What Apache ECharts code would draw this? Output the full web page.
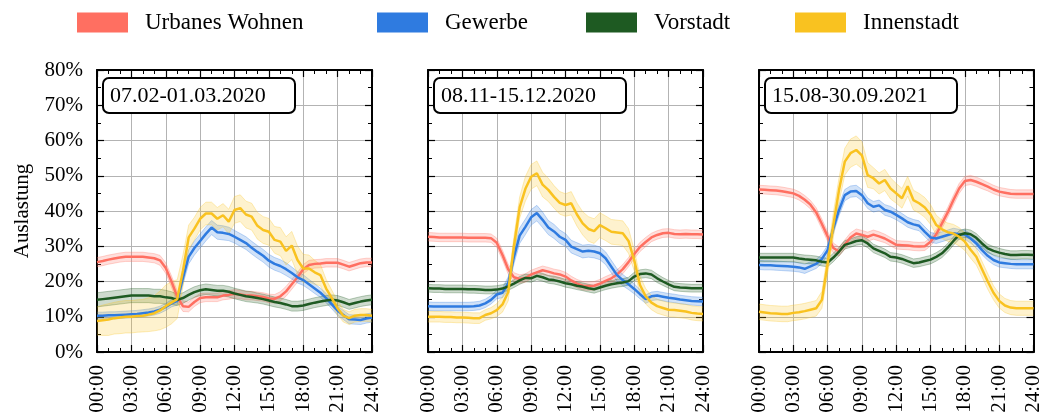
<!DOCTYPE html>
<html><head><meta charset="utf-8">
<script src="https://cdn.jsdelivr.net/npm/echarts@6/dist/echarts.min.js"></script>
<style>html,body{margin:0;padding:0;background:#fff}#c{width:1044px;height:418px}</style>
</head><body><div id="c"></div>
<script>
// ---------- data ----------
const seriesNames = ['Urbanes Wohnen', 'Gewerbe', 'Vorstadt', 'Innenstadt'];
const periodLabels = ['07.02-01.03.2020', '08.11-15.12.2020', '15.08-30.09.2021'];
const xTickLabels = ['00:00','03:00','06:00','09:00','12:00','15:00','18:00','21:00','24:00'];
const yTickLabels = ['0%','10%','20%','30%','40%','50%','60%','70%','80%'];
const yAxisTitle = 'Auslastung';
const hours = [0,0.5,1,1.5,2,2.5,3,3.5,4,4.5,5,5.5,6,6.5,7,7.5,8,8.5,9,9.5,10,10.5,11,11.5,12,12.5,13,13.5,14,14.5,15,15.5,16,16.5,17,17.5,18,18.5,19,19.5,20,20.5,21,21.5,22,22.5,23,23.5,24];

// Period 1: 07.02-01.03.2020
const p1Urban    = [25.5,25.8,26.2,26.5,26.8,27.0,27.0,27.0,27.0,26.8,26.6,26.0, 23.8,20.0,15.7,13.0,12.8,14.2,15.3,15.5,15.5,15.5,16.0,16.2, 16.5,16.3,16.0,16.0,15.8,15.6,15.2,15.1,15.8,17.2,19.2,21.2, 23.5,24.7,25.0,25.1,25.3,25.3,25.3,24.8,24.2,24.7,25.2,25.4,25.4];
const p1Gewerbe  = [10.3,10.3,10.4,10.4,10.5,10.6,10.7,10.8,11.0,11.2,11.5,12.0, 12.8,13.8,14.5,21.0,27.0,29.5,31.5,33.5,35.3,34.0,33.8,33.5, 32.7,31.8,30.9,29.6,28.4,27.3,25.9,25.0,24.4,23.5,22.4,21.2, 20.4,19.2,18.0,16.8,15.3,13.5,11.7,10.5,9.3,9.2,9.1,9.5,9.8];
const p1Vorstadt = [14.8,15.0,15.2,15.4,15.6,15.8,16.0,16.0,16.0,16.0,15.8,15.8, 15.5,15.3,14.8,15.3,16.2,17.0,17.5,17.8,17.6,17.4,17.4,17.1, 16.6,16.2,15.8,15.6,15.3,15.0,14.6,14.2,13.9,13.5,13.0,13.0, 13.2,13.6,14.0,14.3,14.6,14.8,14.6,14.1,13.5,13.9,14.3,14.6,14.8];
const p1Innen    = [8.8,9.0,9.2,9.6,9.8,10.0,10.0,10.2,10.3,10.6,11.0,11.8, 13.0,14.0,15.0,23.0,32.5,35.0,37.8,39.3,39.3,37.8,38.8,37.0, 40.3,40.8,39.0,38.4,35.8,34.6,34.1,31.8,31.3,28.7,30.2,26.1, 23.7,23.7,22.6,21.8,18.0,15.3,12.4,10.3,9.6,10.3,10.5,10.5,10.3];
const p1UrbanBand    = [1.3,1.3,1.3,1.3,1.3,1.3,1.3,1.3,1.3,1.3,1.3,1.4, 1.5,1.6,1.6,1.5,1.4,1.3,1.3,1.2,1.2,1.2,1.2,1.2, 1.2,1.2,1.2,1.2,1.2,1.2,1.2,1.2,1.3,1.4,1.4,1.4, 1.3,1.3,1.2,1.2,1.2,1.2,1.2,1.2,1.2,1.2,1.2,1.2,1.2];
const p1GewerbeBand  = [1.0,1.0,1.0,1.0,1.0,1.0,1.0,1.0,1.0,1.0,1.0,1.0, 1.0,1.0,1.2,1.8,2.0,2.0,2.0,2.0,2.0,2.0,2.0,1.9, 1.8,1.8,1.8,1.8,1.8,1.8,1.8,1.8,1.8,1.8,1.7,1.6, 1.5,1.4,1.4,1.3,1.3,1.3,1.3,1.3,1.3,1.3,1.3,1.3,1.3];
const p1VorstadtBand = [2.0,2.0,2.0,2.0,2.0,2.0,2.0,2.0,2.0,2.0,2.0,2.0, 2.0,1.8,1.6,1.5,1.5,1.5,1.5,1.5,1.5,1.5,1.5,1.5, 1.5,1.5,1.5,1.5,1.4,1.4,1.4,1.4,1.4,1.4,1.4,1.4, 1.4,1.4,1.4,1.4,1.4,1.4,1.4,1.4,1.4,1.4,1.4,1.4,1.4];
const p1InnenBand    = [4.0,4.3,4.5,4.5,4.6,4.6,4.6,4.6,4.6,4.8,5.0,5.5, 6.0,6.0,5.5,4.5,3.5,3.2,3.2,3.2,3.2,3.2,3.3,3.5, 3.8,3.8,3.8,3.8,3.8,3.8,3.8,3.8,4.0,4.0,4.0,4.0, 4.0,3.8,3.4,3.0,2.6,2.2,2.0,1.8,1.8,1.8,1.8,1.8,1.8];

// Period 2: 08.11-15.12.2020
const p2Urban    = [32.7,32.6,32.5,32.5,32.5,32.5,32.5,32.4,32.4,32.4,32.4,32.3, 31.0,27.5,23.5,21.2,20.7,21.0,22.0,22.6,23.2,22.8,22.3,22.0, 21.4,20.3,19.4,18.8,18.7,18.8,19.4,20.2,20.9,22.0,23.5,25.5, 27.8,29.8,31.2,32.5,33.2,33.7,33.8,33.5,33.4,33.5,33.4,33.4,33.3];
const p2Gewerbe  = [13.0,12.9,12.9,12.9,12.9,12.9,12.9,12.9,13.0,13.2,13.8,14.8, 16.3,16.8,19.5,27.0,33.0,35.5,38.2,39.4,37.5,35.3,34.2,32.7, 31.8,29.9,29.2,28.5,28.7,28.5,28.0,26.6,24.2,21.8,20.4,19.2, 17.9,16.4,15.0,15.8,16.0,15.7,15.4,15.2,14.9,14.7,14.5,14.4,14.3];
const p2Vorstadt = [18.1,18.0,18.0,17.9,17.9,17.9,17.9,17.8,17.8,17.7,17.6,17.6, 17.7,18.0,18.6,19.4,20.3,21.0,20.9,21.6,21.2,20.6,20.4,20.0, 19.5,19.2,18.8,18.5,18.1,17.8,18.3,18.8,19.2,19.5,19.7,20.1, 21.4,22.1,22.3,22.0,20.9,20.0,19.2,18.5,18.3,18.2,18.1,18.1,18.1];
const p2Innen    = [10.0,10.0,10.0,9.9,9.9,9.8,9.8,9.7,9.6,9.6,10.5,11.0, 11.9,13.5,17.0,30.0,41.0,46.3,49.7,50.7,47.5,46.0,44.0,42.3, 41.7,42.2,39.0,36.5,34.9,34.3,36.0,35.1,34.1,33.9,33.7,31.5, 26.0,19.0,15.8,14.0,13.0,12.5,12.0,11.9,11.7,11.5,11.1,10.9,10.8];
const p2UrbanBand    = [1.2,1.2,1.2,1.2,1.2,1.2,1.2,1.2,1.2,1.2,1.2,1.2, 1.3,1.4,1.4,1.3,1.2,1.2,1.2,1.2,1.2,1.2,1.2,1.2, 1.2,1.2,1.2,1.2,1.2,1.2,1.2,1.2,1.2,1.3,1.3,1.3, 1.3,1.3,1.3,1.2,1.2,1.2,1.2,1.2,1.2,1.2,1.2,1.2,1.2];
const p2GewerbeBand  = [1.2,1.2,1.2,1.2,1.2,1.2,1.2,1.2,1.2,1.2,1.2,1.2, 1.2,1.4,1.8,2.0,2.2,2.2,2.2,2.2,2.2,2.0,2.0,1.9, 1.8,1.8,1.8,1.8,1.8,1.8,1.8,1.8,1.8,1.8,1.6,1.5, 1.4,1.3,1.2,1.2,1.2,1.2,1.2,1.2,1.2,1.2,1.2,1.2,1.2];
const p2VorstadtBand = [1.1,1.1,1.1,1.1,1.1,1.1,1.1,1.1,1.1,1.1,1.1,1.1, 1.1,1.1,1.1,1.1,1.1,1.1,1.1,1.1,1.1,1.1,1.1,1.1, 1.1,1.1,1.1,1.1,1.1,1.1,1.1,1.1,1.1,1.1,1.1,1.1, 1.2,1.2,1.2,1.2,1.2,1.1,1.1,1.1,1.1,1.1,1.1,1.1,1.1];
const p2InnenBand    = [1.5,1.5,1.5,1.5,1.5,1.5,1.5,1.5,1.5,1.5,1.5,1.6, 1.8,2.2,2.5,2.8,3.0,3.5,3.5,3.5,3.5,3.3,3.2,3.2, 3.2,3.3,3.3,3.3,3.5,3.5,3.5,3.5,3.5,3.5,3.5,3.5, 3.0,2.5,2.2,2.0,2.0,2.0,2.0,2.0,2.0,2.0,2.0,2.0,2.0];

// Period 3: 15.08-30.09.2021
const p3Urban    = [46.1,46.0,45.9,45.8,45.6,45.3,45.0,44.3,43.2,41.8,39.6,36.3, 32.8,29.5,28.5,30.5,32.5,33.6,33.2,32.7,33.3,32.8,32.2,31.3, 30.4,30.3,30.2,30.0,29.9,30.0,31.3,33.4,36.5,39.6,43.1,46.4, 48.5,48.8,48.3,47.6,46.9,46.1,45.5,45.2,44.9,44.8,44.8,44.8,44.8];
const p3Gewerbe  = [24.7,24.6,24.6,24.5,24.4,24.3,24.2,24.0,23.6,24.3,25.0,26.4, 28.9,35.1,40.3,44.5,45.5,45.7,44.5,42.2,41.2,41.6,40.3,39.8, 38.9,37.9,36.8,36.2,35.8,34.1,32.5,32.2,32.7,33.2,33.7,33.4, 33.3,32.2,30.8,28.9,27.3,26.1,25.4,25.2,25.0,24.9,24.9,24.9,24.9];
const p3Vorstadt = [26.8,26.8,26.8,26.8,26.8,26.8,26.8,26.5,26.3,26.2,26.0,25.6, 25.4,26.8,28.5,30.4,30.9,31.5,31.7,30.8,29.4,28.7,28.0,27.0, 26.8,26.4,25.8,25.2,25.4,25.8,26.2,27.0,28.0,29.6,31.5,33.2, 33.7,33.4,32.4,30.8,29.4,28.7,28.2,27.8,27.5,27.5,27.6,27.6,27.5];
const p3Innen    = [11.4,11.2,11.0,10.9,10.8,10.8,11.1,11.3,11.6,12.0,12.4,14.8, 25.0,36.0,46.0,54.0,56.4,57.3,55.8,50.2,49.3,47.8,48.8,46.4, 45.0,43.6,47.0,43.1,42.2,41.0,39.0,36.0,34.8,34.0,33.6,32.7, 31.3,29.0,27.0,23.5,20.0,16.8,14.5,13.2,12.6,12.4,12.4,12.4,12.4];
const p3UrbanBand    = [1.2,1.2,1.2,1.2,1.2,1.2,1.2,1.2,1.2,1.2,1.3,1.4, 1.4,1.4,1.3,1.3,1.3,1.3,1.3,1.3,1.3,1.3,1.2,1.2, 1.2,1.2,1.2,1.2,1.2,1.2,1.2,1.3,1.4,1.4,1.4,1.4, 1.3,1.3,1.3,1.3,1.2,1.2,1.2,1.2,1.2,1.2,1.2,1.2,1.2];
const p3GewerbeBand  = [1.3,1.3,1.3,1.3,1.3,1.3,1.3,1.3,1.3,1.3,1.3,1.3, 1.4,1.5,1.6,1.6,1.6,1.6,1.6,1.5,1.5,1.5,1.5,1.5, 1.4,1.4,1.4,1.4,1.4,1.4,1.4,1.4,1.4,1.4,1.4,1.4, 1.3,1.3,1.3,1.3,1.3,1.3,1.3,1.3,1.3,1.3,1.3,1.3,1.3];
const p3VorstadtBand = [1.2,1.2,1.2,1.2,1.2,1.2,1.2,1.2,1.2,1.2,1.2,1.2, 1.2,1.2,1.2,1.2,1.2,1.2,1.2,1.2,1.2,1.2,1.2,1.2, 1.2,1.2,1.2,1.2,1.2,1.2,1.2,1.2,1.2,1.2,1.2,1.2, 1.2,1.2,1.2,1.2,1.2,1.2,1.2,1.2,1.2,1.2,1.2,1.2,1.2];
const p3InnenBand    = [2.2,2.2,2.2,2.2,2.2,2.2,2.2,2.2,2.2,2.2,2.2,2.4, 3.0,3.5,3.5,3.8,4.0,4.0,3.8,3.5,3.0,3.0,3.0,3.0, 2.8,2.8,2.8,2.8,2.8,2.8,2.8,2.8,2.6,2.6,2.6,2.6, 2.5,2.4,2.3,2.2,2.2,2.0,2.0,2.0,2.0,2.0,2.0,2.0,2.0];

const panels = [
  { means: [p1Urban, p1Gewerbe, p1Vorstadt, p1Innen], bands: [p1UrbanBand, p1GewerbeBand, p1VorstadtBand, p1InnenBand] },
  { means: [p2Urban, p2Gewerbe, p2Vorstadt, p2Innen], bands: [p2UrbanBand, p2GewerbeBand, p2VorstadtBand, p2InnenBand] },
  { means: [p3Urban, p3Gewerbe, p3Vorstadt, p3Innen], bands: [p3UrbanBand, p3GewerbeBand, p3VorstadtBand, p3InnenBand] }
];

// ---------- style / layout ----------
const colors = ['#FF6F61', '#2F7BE0', '#1E5A22', '#F9C220'];
const FONT = '"Liberation Serif", "DejaVu Serif", serif';
const gridBoxes = [
  { left: 97, top: 70, width: 275, height: 282 },
  { left: 428, top: 70, width: 275, height: 282 },
  { left: 759, top: 70, width: 276, height: 282 }
];
const legendLefts = [77, 377, 586, 795];

const grid = gridBoxes.map(g => Object.assign({ containLabel: false }, g));
const xAxis = [], yAxis = [], series = [];
const tickStyle = { show: true, inside: true, length: 7, lineStyle: { color: '#000', width: 1.2 } };
const axisLineStyle = { show: true, onZero: false, lineStyle: { color: '#000', width: 2 } };

function bandRenderer(color) {
  return function (params, api) {
    if (params.dataIndex !== 0) return null;
    const upper = [], lower = [];
    for (let k = 0; k < hours.length; k++) {
      upper.push(api.coord([api.value(0, k), api.value(2, k)]));
      lower.push(api.coord([api.value(0, k), api.value(1, k)]));
    }
    const poly = upper.concat(lower.slice().reverse());
    return {
      type: 'group',
      children: [
        { type: 'polygon', shape: { points: poly }, style: { fill: color, opacity: 0.22 } },
        { type: 'polyline', shape: { points: upper }, style: { stroke: color, fill: null, lineWidth: 1, opacity: 0.3 } },
        { type: 'polyline', shape: { points: lower }, style: { stroke: color, fill: null, lineWidth: 1, opacity: 0.3 } }
      ]
    };
  };
}

gridBoxes.forEach((g, i) => {
  xAxis.push({
    type: 'value', gridIndex: i, position: 'bottom', min: 0, max: 24, interval: 3,
    axisLine: axisLineStyle, axisTick: tickStyle,
    minorTick: { show: true, splitNumber: 3, length: 4, lineStyle: { color: '#000', width: 1 } },
    splitLine: { show: true, lineStyle: { color: '#b3b3b3', width: 1 } },
    axisLabel: { show: true, rotate: 90, margin: 13, fontFamily: FONT, fontSize: 21, color: '#000',
      formatter: v => xTickLabels[Math.round(v / 3)] }
  });
  xAxis.push({
    type: 'value', gridIndex: i, position: 'top', min: 0, max: 24, interval: 3,
    axisLine: axisLineStyle, axisTick: tickStyle,
    minorTick: { show: true, splitNumber: 3, length: 4, lineStyle: { color: '#000', width: 1 } },
    splitLine: { show: false }, axisLabel: { show: false }
  });
  yAxis.push({
    type: 'value', gridIndex: i, position: 'left', min: 0, max: 80, interval: 10,
    axisLine: axisLineStyle, axisTick: tickStyle,
    minorTick: { show: true, splitNumber: 2, length: 4, lineStyle: { color: '#000', width: 1 } },
    splitLine: { show: true, lineStyle: { color: '#b3b3b3', width: 1 } },
    axisLabel: { show: i === 0, margin: 14, fontFamily: FONT, fontSize: 21, color: '#000',
      formatter: v => yTickLabels[Math.round(v / 10)] },
    name: i === 0 ? yAxisTitle : '', nameLocation: 'middle', nameGap: 64,
    nameTextStyle: { fontFamily: FONT, fontSize: 21, color: '#000' }
  });
  yAxis.push({
    type: 'value', gridIndex: i, position: 'right', min: 0, max: 80, interval: 10,
    axisLine: axisLineStyle, axisTick: tickStyle,
    minorTick: { show: true, splitNumber: 2, length: 4, lineStyle: { color: '#000', width: 1 } },
    splitLine: { show: false }, axisLabel: { show: false }
  });

  const p = panels[i];
  p.means.forEach((m, j) => {
    const b = p.bands[j];
    series.push({
      type: 'custom', name: 'band', xAxisIndex: 2 * i, yAxisIndex: 2 * i,
      data: hours.map((t, k) => [t, m[k] - b[k], m[k] + b[k]]),
      encode: { x: 0, y: [1, 2] }, silent: true, z: 2, clip: true,
      renderItem: bandRenderer(colors[j])
    });
  });
  p.means.forEach((m, j) => {
    series.push({
      type: 'line', name: seriesNames[j], xAxisIndex: 2 * i, yAxisIndex: 2 * i,
      data: hours.map((t, k) => [t, m[k]]),
      symbol: 'none', z: 3 + j,
      lineStyle: { color: colors[j], width: 2.5 }, itemStyle: { color: colors[j] }
    });
  });
});

const legend = seriesNames.map((n, j) => ({
  data: [n], left: legendLefts[j], top: 11, itemWidth: 51, itemHeight: 20, icon: 'rect',
  selectedMode: false, padding: 0,
  itemStyle: { borderWidth: 0 },
  textStyle: { fontFamily: FONT, fontSize: 23, color: '#000', padding: [0, 0, 0, 12] }
}));

const graphic = [];
periodLabels.forEach((lab, i) => {
  const x = gridBoxes[i].left + 6, y = 78;
  graphic.push({ type: 'rect', z: 100, shape: { x: x, y: y, width: 192, height: 35, r: 6 },
    style: { fill: '#fff', stroke: '#000', lineWidth: 2 } });
  graphic.push({ type: 'text', z: 101, x: x + 7, y: y + 18,
    style: { text: lab, fontFamily: FONT, fontSize: 22, fill: '#000', verticalAlign: 'middle', align: 'left' } });
});

const chart = echarts.init(document.getElementById('c'), null, { renderer: 'canvas' });
chart.setOption({ animation: false, backgroundColor: '#fff', grid, xAxis, yAxis, series, legend, graphic });
</script></body></html>
